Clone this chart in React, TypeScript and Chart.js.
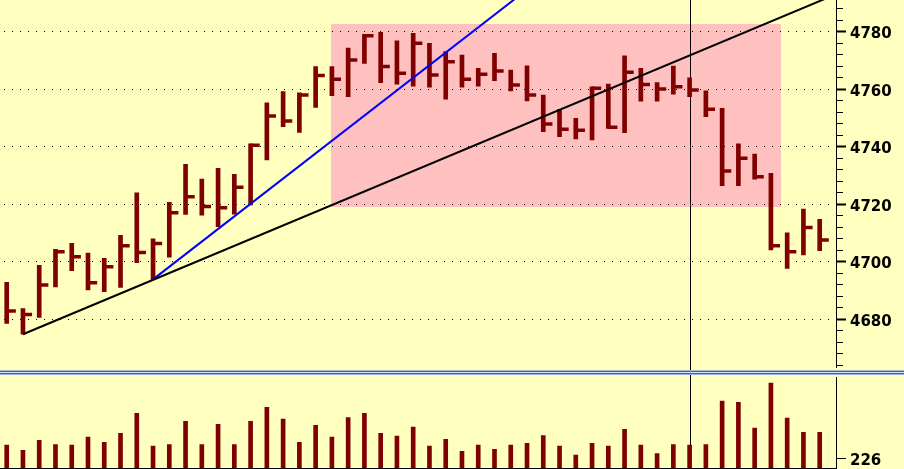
import { useEffect, useRef } from 'react';
import { Chart, registerables } from 'chart.js';

Chart.register(...registerables);

// ---- data ----
const BAR_INDEX = [
  0, 1, 2, 3, 4, 5, 6, 7, 8, 9, 10, 11, 12, 13, 14, 15, 16, 17, 18, 19, 20, 21, 22, 23, 24, 25,
  26, 27, 28, 29, 30, 31, 32, 33, 34, 35, 36, 37, 38, 39, 40, 41, 42, 43, 44, 45, 46, 47, 48, 49, 50,
];
const HIGHS = [
  4692.9, 4683.7, 4698.8, 4704.3, 4706.4, 4703.0, 4701.2, 4709.2, 4724.0, 4708.0, 4720.7, 4733.9,
  4728.8, 4732.5, 4730.4, 4741.0, 4755.3, 4759.2, 4758.8, 4767.9, 4767.9, 4774.3, 4779.1, 4779.8,
  4776.9, 4779.5, 4776.0, 4773.1, 4771.9, 4767.3, 4772.5, 4766.7, 4768.2, 4758.0, 4753.0, 4749.9,
  4760.9, 4761.8, 4771.6, 4767.3, 4762.3, 4768.1, 4764.0, 4759.5, 4753.4, 4741.0, 4737.5, 4730.8,
  4710.1, 4718.3, 4714.8,
];
const LOWS = [
  4678.6, 4674.8, 4680.7, 4691.3, 4696.9, 4690.2, 4689.6, 4691.1, 4699.7, 4693.9, 4701.6, 4716.5,
  4716.2, 4712.2, 4716.6, 4719.8, 4735.4, 4747.0, 4745.0, 4753.7, 4757.8, 4757.4, 4769.0, 4762.3,
  4761.8, 4761.1, 4760.7, 4756.6, 4760.7, 4761.1, 4763.0, 4759.4, 4756.0, 4745.3, 4743.5, 4742.7,
  4742.4, 4746.4, 4744.9, 4755.9, 4755.9, 4758.3, 4757.4, 4750.5, 4726.5, 4726.5, 4728.7, 4704.1,
  4697.7, 4702.4, 4703.9,
];
const CLOSES = [
  4682.9, 4681.7, 4691.9, 4703.5, 4701.8, 4692.7, 4698.3, 4705.6, 4703.2, 4706.4, 4717.1, 4722.6,
  4719.2, 4718.8, 4725.9, 4740.5, 4750.7, 4749.0, 4758.0, 4764.8, 4763.5, 4770.2, 4778.6, 4767.9,
  4765.6, 4776.0, 4765.0, 4769.6, 4763.5, 4765.2, 4766.4, 4761.5, 4758.0, 4747.9, 4746.1, 4745.8,
  4760.4, 4746.8, 4765.9, 4761.7, 4760.1, 4760.9, 4759.8, 4753.1, 4731.6, 4736.0, 4729.6, 4705.6,
  4703.5, 4711.9, 4707.6,
];
const VOLUMES = [
  266, 251, 280, 268, 266, 289, 274, 300, 358, 263, 268, 335, 268, 326, 268, 335, 375, 341, 274,
  323, 289, 346, 358, 300, 292, 318, 263, 283, 248, 266, 254, 266, 271, 294, 263, 237, 271, 263,
  312, 266, 242, 268, 266, 268, 393, 390, 315, 445, 344, 303, 303,
];
const PRICE_TICKS = [
  4664, 4668, 4672, 4676, 4680, 4684, 4688, 4692, 4696, 4700, 4704, 4708, 4712, 4716, 4720, 4724,
  4728, 4732, 4736, 4740, 4744, 4748, 4752, 4756, 4760, 4764, 4768, 4772, 4776, 4780, 4784, 4788,
];
const PRICE_LABELS = [4680, 4700, 4720, 4740, 4760, 4780];
const VOLUME_TICKS = [226];

// analysis drawings
const TREND_BLACK = [
  { x: 1, y: 4674.8 },
  { x: 50.3, y: 4791.4 },
];
const TREND_BLUE = [
  { x: 9, y: 4693.9 },
  { x: 31.25, y: 4791.4 },
];
const ZONE_X = [19.95, 47.6];
const ZONE_Y = [4719.2, 4782.7];
const CURSOR_X = 42;

// ---- style ----
const BG = '#FFFFC0';
const PINK = '#FFC0C0';
const BAR = '#800000';
const AXIS_W = 68;
const X_MIN = -0.412;
const X_MAX = 51.003;
const PRICE_MIN = 4661.5;
const PRICE_MAX = 4791.06;
const VOL_MIN = 197.1;
const VOL_MAX = 475.9;
const CLOSE_OFFSET = 0.28;
const LABEL_FONT = { family: 'DejaVu Sans', size: 15, weight: 'bold' as const };

const panesPlugin = {
  id: 'panes',
  beforeDraw(chart: any) {
    const { ctx, width, height } = chart;
    const xs = chart.scales.x;
    const ys = chart.scales.y;
    ctx.save();
    ctx.fillStyle = BG;
    ctx.fillRect(0, 0, width, height);
    const l = xs.getPixelForValue(ZONE_X[0]);
    const r = xs.getPixelForValue(ZONE_X[1]);
    const t = ys.getPixelForValue(ZONE_Y[1]);
    const b = ys.getPixelForValue(ZONE_Y[0]);
    ctx.fillStyle = PINK;
    ctx.fillRect(Math.round(l), Math.round(t), Math.round(r) - Math.round(l), Math.round(b) - Math.round(t));
    ctx.restore();
  },
  beforeDatasetsDraw(chart: any) {
    const { ctx, chartArea } = chart;
    const x = Math.round(chart.scales.x.getPixelForValue(CURSOR_X)) + 0.5;
    ctx.save();
    ctx.strokeStyle = '#000';
    ctx.lineWidth = 1;
    ctx.beginPath();
    ctx.moveTo(x, chartArea.top);
    ctx.lineTo(x, chartArea.bottom);
    ctx.stroke();
    ctx.restore();
  },
  afterDraw(chart: any) {
    const { ctx, width, chartArea } = chart;
    const b = Math.round(chart.scales.y.bottom);
    ctx.save();
    ctx.fillStyle = BG;
    ctx.fillRect(chartArea.right - 2, b - 5, 5, 9);
    const rows: [number, string][] = [
      [b - 3, '#A8B8D0'],
      [b - 2, '#2466DC'],
      [b - 1, '#D8E4F4'],
      [b, '#2466DC'],
      [b + 1, '#98B4E4'],
    ];
    for (const [y, c] of rows) {
      ctx.fillStyle = c;
      ctx.fillRect(0, y, width, 1);
    }
    ctx.fillStyle = '#000';
    ctx.fillRect(0, chartArea.bottom - 1, chartArea.right, 1);
    ctx.restore();
  },
};

export default function App() {
  const ref = useRef<HTMLCanvasElement | null>(null);

  useEffect(() => {
    if (!ref.current) return;
    const chart = new Chart(ref.current, {
      type: 'bar',
      data: {
        datasets: [
          {
            type: 'line',
            data: TREND_BLACK,
            borderColor: '#000000',
            borderWidth: 2,
            pointRadius: 0,
            yAxisID: 'y',
            order: 0,
          } as any,
          {
            type: 'line',
            data: TREND_BLUE,
            borderColor: '#0000FF',
            borderWidth: 2,
            pointRadius: 0,
            yAxisID: 'y',
            order: 0,
          } as any,
          {
            type: 'line',
            data: BAR_INDEX.map((i) => ({ x: i + CLOSE_OFFSET, y: CLOSES[i] })),
            showLine: false,
            pointStyle: 'line',
            pointRadius: 4.6,
            pointBorderWidth: 3.5,
            pointBorderColor: BAR,
            pointBackgroundColor: BAR,
            yAxisID: 'y',
            order: 1,
          } as any,
          {
            type: 'bar',
            data: BAR_INDEX.map((i) => ({ x: i, y: [LOWS[i], HIGHS[i]] })),
            backgroundColor: BAR,
            borderWidth: 0,
            barThickness: 4,
            grouped: false,
            yAxisID: 'y',
            order: 2,
          } as any,
          {
            type: 'bar',
            data: BAR_INDEX.map((i) => ({ x: i, y: VOLUMES[i] })),
            backgroundColor: BAR,
            borderWidth: 0,
            barThickness: 4,
            grouped: false,
            yAxisID: 'yv',
            order: 3,
          } as any,
        ],
      },
      options: {
        responsive: false,
        animation: false,
        devicePixelRatio: 1,
        events: [],
        layout: { padding: 0, autoPadding: false },
        plugins: { legend: { display: false }, tooltip: { enabled: false } },
        scales: {
          x: {
            type: 'linear',
            min: X_MIN,
            max: X_MAX,
            display: false,
            offset: false,
          },
          y: {
            type: 'linear',
            position: 'right',
            stack: 'panes',
            stackWeight: 372.5,
            min: PRICE_MIN,
            max: PRICE_MAX,
            afterBuildTicks: (s: any) => {
              s.ticks = PRICE_TICKS.map((v) => ({ value: v }));
            },
            afterFit: (s: any) => {
              s.width = AXIS_W;
              s.paddingTop = 0;
              s.paddingBottom = 0;
            },
            ticks: {
              autoSkip: false,
              padding: 4,
              labelOffset: 2.5,
              color: '#000',
              font: LABEL_FONT,
              callback: (v: any) => (PRICE_LABELS.includes(Number(v)) ? String(v) : ''),
            },
            grid: {
              drawOnChartArea: true,
              color: (c: any) =>
                c.tick && PRICE_LABELS.includes(c.tick.value) ? '#000000' : 'rgba(0,0,0,0)',
              lineWidth: 1,
              tickLength: 10,
              tickColor: '#000000',
              tickWidth: (c: any) => (c.tick && PRICE_LABELS.includes(c.tick.value) ? 2 : 1),
              tickBorderDash: (c: any) =>
                c.tick && PRICE_LABELS.includes(c.tick.value) ? [] : [6, 20],
            },
            border: { display: true, color: '#000', width: 1, dash: [1, 7], dashOffset: 4 },
          },
          yv: {
            type: 'linear',
            position: 'right',
            stack: 'panes',
            stackWeight: 96.5,
            min: VOL_MIN,
            max: VOL_MAX,
            afterBuildTicks: (s: any) => {
              s.ticks = VOLUME_TICKS.map((v) => ({ value: v }));
            },
            afterFit: (s: any) => {
              s.width = AXIS_W;
              s.paddingTop = 0;
              s.paddingBottom = 0;
            },
            ticks: {
              autoSkip: false,
              padding: 4,
              labelOffset: 2.5,
              color: '#000',
              font: LABEL_FONT,
              callback: (v: any) => String(v),
            },
            grid: {
              drawOnChartArea: false,
              tickLength: 10,
              tickColor: '#000000',
              tickWidth: 1,
            },
            border: { display: true, color: '#000', width: 1 },
          },
        },
      } as any,
      plugins: [panesPlugin],
    });
    return () => chart.destroy();
  }, []);

  return (
    <div
      style={{
        position: 'fixed',
        left: 0,
        top: 0,
        width: 904,
        height: 469,
        background: BG,
        overflow: 'hidden',
      }}
    >
      <canvas ref={ref} width={904} height={469} style={{ display: 'block' }} />
    </div>
  );
}
